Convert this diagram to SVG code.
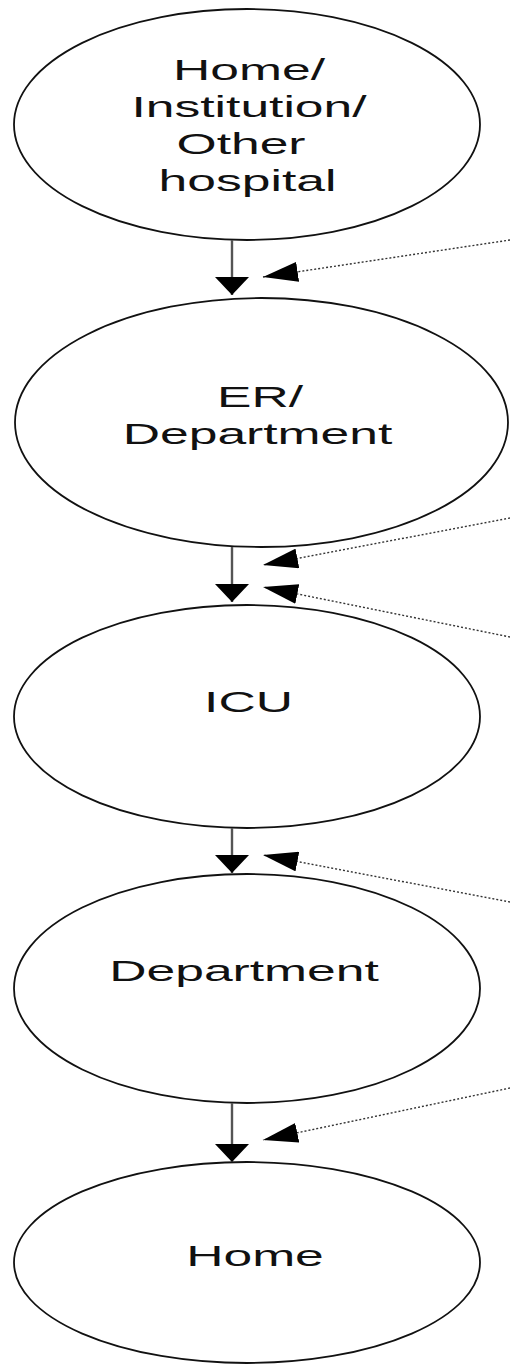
<svg xmlns="http://www.w3.org/2000/svg" width="510" height="1365" viewBox="0 0 510 1365">
<style>
.node ellipse{fill:#fff;stroke:#111;stroke-width:1.8}
.node text{font-family:"Liberation Sans",Arial,sans-serif;font-size:30px;fill:#111;text-anchor:middle}
.solid{stroke:#555;stroke-width:2.4;fill:none}
.dot{stroke:#333;stroke-width:1.4;stroke-dasharray:2 2;fill:none}
</style>
<defs>
<marker id="ah" markerUnits="userSpaceOnUse" markerWidth="18" markerHeight="34" viewBox="0 0 18 34" refX="18" refY="17" orient="auto">
<path d="M0,0 L18,17 L0,34 z" fill="#000"/>
</marker>
<marker id="ad" markerUnits="userSpaceOnUse" markerWidth="35" markerHeight="20" viewBox="0 0 35 20" refX="35" refY="10" orient="auto">
<path d="M0,0 L35,10 L0,20 z" fill="#000"/>
</marker>
</defs>
<rect width="510" height="1365" fill="#fff"/>
<g id="n1" class="node">
<ellipse cx="247" cy="124.5" rx="233" ry="115.5"/>
<text transform="translate(249,80) scale(1.72,1)">Home/</text>
<text transform="translate(249,117) scale(1.72,1)">Institution/</text>
<text transform="translate(241,154) scale(1.72,1)">Other</text>
<text transform="translate(247.5,191) scale(1.72,1)">hospital</text>
</g>
<g id="n2" class="node">
<ellipse cx="261.5" cy="422.5" rx="246.5" ry="124.5"/>
<text transform="translate(260,407) scale(1.72,1)">ER/</text>
<text transform="translate(257.5,444) scale(1.72,1)">Department</text>
</g>
<g id="n3" class="node">
<ellipse cx="247" cy="716.5" rx="233" ry="111.5"/>
<text transform="translate(248.5,712) scale(1.72,1)">ICU</text>
</g>
<g id="n4" class="node">
<ellipse cx="247" cy="988.5" rx="233" ry="114.5"/>
<text transform="translate(244,981) scale(1.72,1)">Department</text>
</g>
<g id="n5" class="node">
<ellipse cx="247" cy="1262.5" rx="233" ry="100.5"/>
<text transform="translate(255,1266) scale(1.72,1)">Home</text>
</g>
<g id="connectors">
<line class="solid" x1="232" y1="240" x2="232" y2="295" marker-end="url(#ah)"/>
<line class="solid" x1="232" y1="547" x2="232" y2="602" marker-end="url(#ah)"/>
<line class="solid" x1="232" y1="828" x2="232" y2="873" marker-end="url(#ah)"/>
<line class="solid" x1="232" y1="1103" x2="232" y2="1162" marker-end="url(#ah)"/>
<line class="dot" x1="510" y1="240" x2="263" y2="277" marker-end="url(#ad)"/>
<line class="dot" x1="510" y1="518" x2="263" y2="565" marker-end="url(#ad)"/>
<line class="dot" x1="510" y1="637" x2="263" y2="587" marker-end="url(#ad)"/>
<line class="dot" x1="510" y1="902" x2="263" y2="855" marker-end="url(#ad)"/>
<line class="dot" x1="510" y1="1088" x2="263" y2="1140" marker-end="url(#ad)"/>
</g>
</svg>
